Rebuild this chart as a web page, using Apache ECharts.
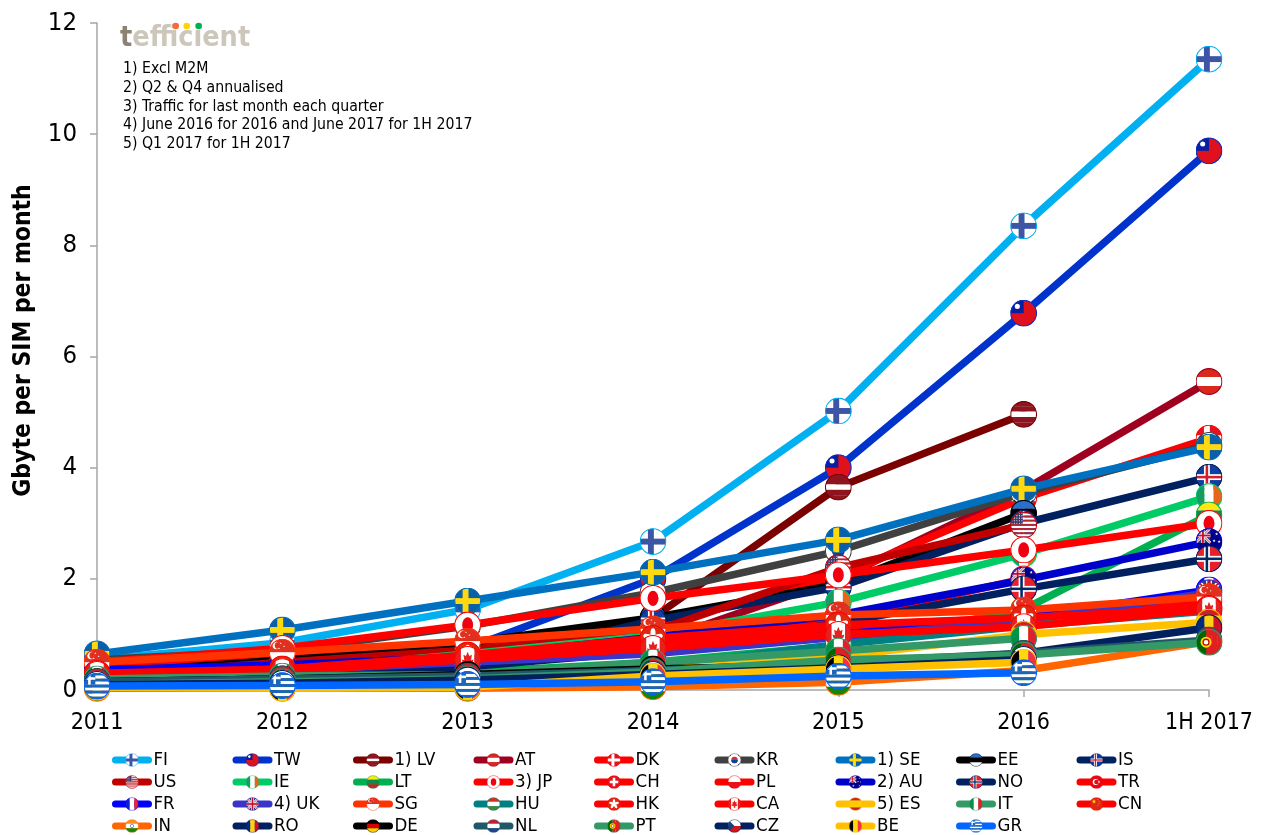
<!DOCTYPE html>
<html><head><meta charset="utf-8">
<style>html,body{margin:0;padding:0;background:#fff}#c{width:1267px;height:835px}</style>
<script src="https://cdn.jsdelivr.net/npm/echarts@6/dist/echarts.min.js"></script>
</head><body><div id="c"></div>
<script>
var periods = ['2011','2012','2013','2014','2015','2016','1H 2017'];
var yTicks = [0,2,4,6,8,10,12];
var notes = ['1) Excl M2M','2) Q2 & Q4 annualised','3) Traffic for last month each quarter','4) June 2016 for 2016 and June 2017 for 1H 2017','5) Q1 2017 for 1H 2017'];
var seriesNames = ['FI','TW','1) LV','AT','DK','KR','1) SE','EE','IS','US','IE','LT','3) JP','CH','PL','2) AU','NO','TR','FR','4) UK','SG','HU','HK','CA','5) ES','IT','CN','IN','RO','DE','NL','PT','CZ','BE','GR'];
var FI = [0.55,0.85,1.45,2.67,5.02,8.35,11.35];
var TW = [0.35,0.45,0.75,2.0,4.0,6.78,9.7];
var LV = [0.2,0.35,0.55,1.3,3.65,4.96,null];
var AT = [0.2,0.3,0.45,0.85,2.0,3.6,5.55];
var DK = [0.45,0.62,0.85,1.15,2.05,3.45,4.53];
var KR = [0.55,0.7,1.15,1.75,2.5,3.55,4.4];
var SE = [0.65,1.08,1.6,2.12,2.7,3.62,4.37];
var EE = [0.3,0.54,0.85,1.3,1.9,3.18,null];
var IS = [0.3,0.42,0.45,1.25,1.85,3.0,3.83];
var US = [0.25,0.5,0.72,1.05,2.2,2.97,null];
var IE = [0.25,0.35,0.65,0.98,1.58,2.45,3.48];
var LT = [0.18,0.25,0.32,0.5,0.8,1.45,3.15];
var JP = [0.5,0.75,1.17,1.65,2.07,2.52,3.0];
var CH = [0.28,0.36,0.58,0.88,1.15,1.3,1.6];
var PL = [0.3,0.38,0.6,0.9,1.25,2.0,null];
var AU = [0.36,0.45,0.6,0.95,1.35,1.98,2.67];
var NO = [0.2,0.3,0.42,0.7,1.2,1.82,2.36];
var TR = [0.3,0.35,0.55,0.8,1.05,1.3,1.5];
var FR = [0.36,0.44,0.5,0.7,1.0,1.3,1.8];
var UK = [0.2,0.35,0.5,0.65,0.95,1.25,1.75];
var SG = [0.5,0.68,0.88,1.1,1.35,1.44,1.68];
var HU = [0.1,0.2,0.28,0.42,0.82,1.15,1.42];
var HK = [0.3,0.38,0.63,0.93,1.17,1.3,1.47];
var CA = [0.28,0.33,0.55,0.75,1.0,1.14,1.45];
var ES = [0.1,0.15,0.22,0.35,0.6,1.0,1.22];
var IT = [0.2,0.25,0.28,0.5,0.7,0.93,null];
var CN = [0.1,0.12,0.18,0.3,0.45,0.6,null];
var IN = [0.03,0.03,0.03,0.06,0.14,0.35,0.87];
var RO = [0.15,0.2,0.25,0.33,0.45,0.66,1.12];
var DE = [0.15,0.2,0.28,0.38,0.45,0.58,null];
var NL = [0.15,0.2,0.25,0.35,0.5,0.66,0.9];
var PT = [0.1,0.15,0.2,0.33,0.54,0.63,0.86];
var CZ = [0.1,0.12,0.18,0.28,0.4,0.55,null];
var BE = [0.05,0.03,0.05,0.25,0.38,0.5,null];
var GR = [0.07,0.08,0.1,0.15,0.25,0.31,null];
var seriesValues = [FI,TW,LV,AT,DK,KR,SE,EE,IS,US,IE,LT,JP,CH,PL,AU,NO,TR,FR,UK,SG,HU,HK,CA,ES,IT,CN,IN,RO,DE,NL,PT,CZ,BE,GR];
var seriesColors = ['#00B0F0','#0033CC','#7B0000','#A00020','#FF0000','#404040','#0070C0','#000000','#002060','#C00000','#00CC66','#00B050','#FF0000','#FF0000','#FF0000','#0000CC','#002060','#FF0000','#0000FF','#3A35C8','#FF3300','#008080','#FF0000','#FF0000','#FFC000','#339966','#FF0000','#FF6600','#002060','#000000','#215868','#339966','#002060','#FFC000','#0066FF'];

/* flag drawing helpers, 64x64 canvas */
function rect(x,y,w,h,c){return '<rect x="'+x+'" y="'+y+'" width="'+w+'" height="'+h+'" fill="'+c+'"/>';}
function H(a){var s='',h=64/a.length;a.forEach(function(c,i){s+=rect(0,i*h,64,h+0.3,c);});return s;}
function V(a){var s='',w=64/a.length;a.forEach(function(c,i){s+=rect(i*w,0,w+0.3,64,c);});return s;}
function N(bg,c1,c2){var s=rect(0,0,64,64,bg)+rect(20,0,14,64,c1)+rect(0,25,64,14,c1);if(c2)s+=rect(24,0,6,64,c2)+rect(0,29,64,6,c2);return s;}
function star(cx,cy,r,c){var p=[];for(var i=0;i<10;i++){var a=-Math.PI/2+i*Math.PI/5,q=i%2?r*0.4:r;p.push((cx+q*Math.cos(a)).toFixed(1)+','+(cy+q*Math.sin(a)).toFixed(1));}return '<polygon points="'+p.join(' ')+'" fill="'+c+'"/>';}
function UJ(w,h,sc){var t='scale('+sc+')';return '<g transform="'+t+'">'+rect(0,0,64,64,'#2A3C8F')
 +'<path d="M0 0L64 64M64 0L0 64" stroke="#fff" stroke-width="11"/><path d="M0 0L64 64M64 0L0 64" stroke="#C8102E" stroke-width="4"/>'
 +rect(25,0,14,64,'#fff')+rect(0,25,64,14,'#fff')+rect(28,0,8,64,'#C8102E')+rect(0,28,64,8,'#C8102E')+'</g>';}
var flags = {
 'FI':N('#fff','#3C55A5'),
 'TW':rect(0,0,64,64,'#E0101C')+rect(0,0,32,32,'#0A1FA0')+'<circle cx="17" cy="16" r="6" fill="#fff"/>',
 '1) LV':H(['#8E1420','#8E1420','#fff','#8E1420','#8E1420']),
 'AT':H(['#D9281C','#fff','#D9281C']),
 'DK':N('#E8101C','#fff'),
 'KR':rect(0,0,64,64,'#fff')+'<circle cx="32" cy="32" r="15" fill="#CD2E3A"/><path d="M17 32a15 15 0 0 0 30 0z" fill="#0047A0"/><path d="M8 14l8 -6M48 8l8 6M8 50l8 6M48 56l8-6" stroke="#222" stroke-width="4"/>',
 '1) SE':N('#0B5EA8','#FFD90F'),
 'EE':H(['#2A6FC9','#000','#fff']),
 'IS':N('#0F3FA0','#fff','#D21F2B'),
 'US':(function(){var s='';for(var i=0;i<13;i++)s+=rect(0,i*64/13,64,64/13+0.2,i%2?'#fff':'#B2263A');s+=rect(0,0,30,30,'#3C3B6E');for(var r=0;r<5;r++)for(var c=0;c<5;c++)s+='<circle cx="'+(4+c*6)+'" cy="'+(4+r*6)+'" r="1.3" fill="#fff"/>';return s;})(),
 'IE':V(['#169B62','#fff','#E8651C']),
 'LT':H(['#FDE80F','#0E8A4A','#C1272D']),
 '3) JP':rect(0,0,64,64,'#fff')+'<ellipse cx="32" cy="32" rx="13" ry="18" fill="#F00010"/>',
 'CH':rect(0,0,64,64,'#E8101C')+rect(26,12,12,40,'#fff')+rect(12,26,40,12,'#fff'),
 'PL':H(['#fff','#E8101C']),
 '2) AU':rect(0,0,64,64,'#00008B')+UJ(0,0,0.55)+star(22,50,6,'#fff')+star(50,14,4,'#fff')+star(44,30,4,'#fff')+star(56,32,4,'#fff')+star(50,50,4,'#fff'),
 'NO':N('#E8202C','#fff','#002868'),
 'TR':rect(0,0,64,64,'#E30A17')+'<circle cx="28" cy="32" r="14" fill="#fff"/><circle cx="32" cy="32" r="11" fill="#E30A17"/>'+star(44,32,6,'#fff'),
 'FR':V(['#0A1FD0','#fff','#EE2233']),
 '4) UK':UJ(0,0,1),
 'SG':H(['#E03020','#fff'])+'<circle cx="18" cy="16" r="9" fill="#fff"/><circle cx="22" cy="16" r="8" fill="#E03020"/>'+star(28,11,2.5,'#fff')+star(36,18,2.5,'#fff')+star(24,23,2.5,'#fff'),
 'HU':H(['#D8301C','#fff','#3E8A3A']),
 'HK':rect(0,0,64,64,'#DE2910')+[0,72,144,216,288].map(function(a){return '<ellipse cx="32" cy="20" rx="6" ry="12" fill="#fff" transform="rotate('+a+' 32 32)"/>';}).join(''),
 'CA':V(['#E62020','#fff','#fff','#E62020'])+'<polygon points="32,14 36,24 42,21 40,34 46,32 44,40 35,42 36,50 28,50 29,42 20,40 18,32 24,34 22,21 28,24" fill="#E62020"/>',
 '5) ES':H(['#D02020','#FFCC00','#FFCC00','#D02020']),
 'IT':V(['#009246','#fff','#E02030']),
 'CN':rect(0,0,64,64,'#DE2910')+star(20,20,11,'#FFDE00')+star(38,10,3,'#FFDE00')+star(44,20,3,'#FFDE00')+star(44,30,3,'#FFDE00')+star(38,38,3,'#FFDE00'),
 'IN':H(['#FF8F1C','#fff','#138808'])+'<circle cx="32" cy="32" r="8" fill="none" stroke="#000080" stroke-width="2"/>',
 'RO':V(['#002B7F','#FCD116','#CE1126']),
 'DE':H(['#000','#DD0000','#FFCE00']),
 'NL':H(['#C8202C','#fff','#21468B']),
 'PT':V(['#006600','#006600','#E02020','#E02020','#E02020'])+'<circle cx="25" cy="32" r="13" fill="#FFE000"/><circle cx="25" cy="32" r="7" fill="#fff" stroke="#C00" stroke-width="3"/>',
 'CZ':H(['#fff','#D7141A'])+'<polygon points="0,0 32,32 0,64" fill="#11457E"/>',
 'BE':V(['#000','#FFD90C','#EF3340']),
 'GR':(function(){var s='';for(var i=0;i<9;i++)s+=rect(0,i*64/9,64,64/9+0.2,i%2?'#fff':'#1C66B8');s+=rect(0,0,28,28.5,'#1C66B8')+rect(11,0,6,28.5,'#fff')+rect(0,11,28,6,'#fff');return s;})()
};
function flagURI(name,border){
  var svg='<svg xmlns="http://www.w3.org/2000/svg" width="128" height="128" viewBox="0 0 64 64"><defs><clipPath id="k"><circle cx="32" cy="32" r="31"/></clipPath></defs><g clip-path="url(#k)">'+flags[name]+'</g><circle cx="32" cy="32" r="30.5" fill="none" stroke="'+border+'" stroke-width="2.5"/></svg>';
  return 'image://data:image/svg+xml;charset=utf-8,'+encodeURIComponent(svg);
}
var font='"DejaVu Sans Condensed","DejaVu Sans",sans-serif';
var series=seriesNames.map(function(n,i){return {
  name:n,type:'line',data:seriesValues[i],z:2+i,clip:false,symbol:flagURI(n,seriesColors[i]),symbolSize:27,showSymbol:true,showAllSymbol:true,
  connectNulls:false,silent:true,itemStyle:{color:seriesColors[i]},lineStyle:{color:seriesColors[i],width:7.5,cap:'round',join:'round'},
  emphasis:{disabled:true}
};});
var colX=[112,232.5,353,473.5,594,714.5,835.5,956,1076.5];
var legends=colX.map(function(x,c){
  var d=[];for(var r=0;r<4;r++){var k=r*9+c;if(k<seriesNames.length)d.push(seriesNames[k]);}
  return {data:d,orient:'vertical',left:x,top:750.5,height:200,padding:0,itemWidth:33,itemHeight:17,itemGap:3,selectedMode:false,
    lineStyle:{width:7,cap:'round'},textStyle:{fontFamily:font,fontSize:18.5,color:'#000',lineHeight:17,padding:0}};
});
var g=[
 {type:'text',left:120,top:24,style:{rich:{a:{fontFamily:font,fontSize:28.5,fontWeight:'bold',fill:'#8C8372'},b:{fontFamily:font,fontSize:28.5,fontWeight:'bold',fill:'#CDC7BB'}},text:'{a|t}{b|efficient}'}},
 {type:'circle',shape:{cx:175.7,cy:26,r:3.3},style:{fill:'#F26B38'}},
 {type:'circle',shape:{cx:186.7,cy:26,r:3.3},style:{fill:'#FFD400'}},
 {type:'circle',shape:{cx:198.7,cy:26,r:3.3},style:{fill:'#00B050'}}
];
notes.forEach(function(t,i){g.push({type:'text',left:123,top:61+i*18.75,style:{text:t,fontFamily:font,fontSize:15.7,fill:'#000'}});});
var chart=echarts.init(document.getElementById('c'),null,{renderer:'canvas'});
chart.setOption({
  animation:false,backgroundColor:'#fff',
  grid:{left:97,right:58,top:23,bottom:145},
  legend:legends,graphic:g,
  xAxis:{type:'category',data:periods,boundaryGap:false,
    axisLine:{lineStyle:{color:'#A6A6A6',width:1.5}},axisTick:{show:true,length:7,alignWithLabel:true,lineStyle:{color:'#A6A6A6',width:1.5}},
    axisLabel:{interval:0,color:'#000',fontFamily:font,fontSize:23,margin:22,showMaxLabel:true,showMinLabel:true},splitLine:{show:false}},
  yAxis:{type:'value',min:0,max:12,interval:2,
    name:'Gbyte per SIM per month',nameLocation:'middle',nameGap:61,nameTextStyle:{fontFamily:font,fontSize:24.4,fontWeight:'bold',color:'#000',padding:[0,0,0,32]},
    axisLine:{show:true,lineStyle:{color:'#A6A6A6',width:1.5}},axisTick:{show:true,length:7,lineStyle:{color:'#A6A6A6',width:1.5}},
    axisLabel:{color:'#000',fontFamily:font,fontSize:25.5,margin:20,padding:[4,0,0,0],formatter:function(v){return yTicks.indexOf(v)>=0?String(v):'';}},splitLine:{show:false}},
  series:series
});
</script></body></html>
